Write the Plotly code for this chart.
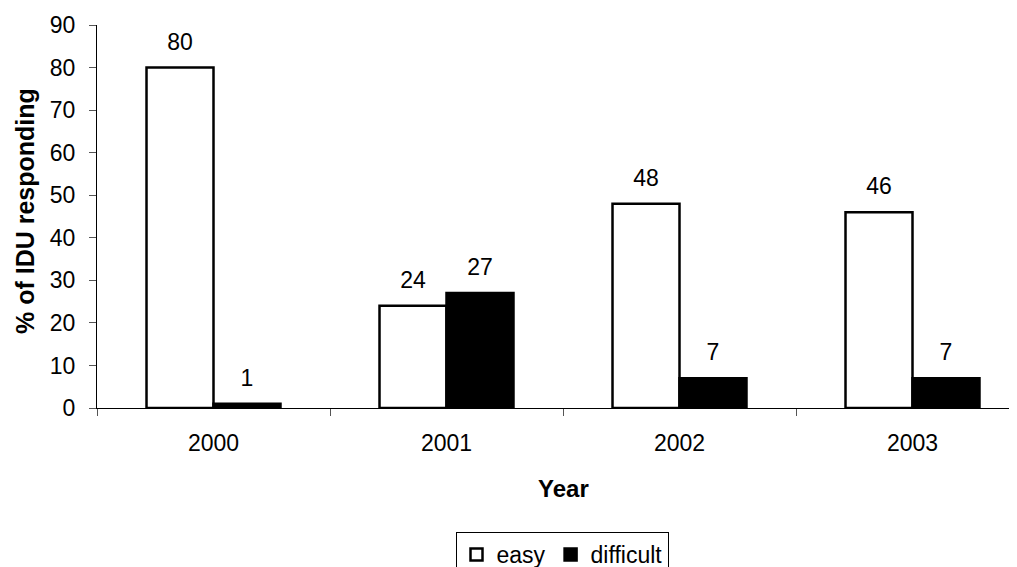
import plotly.graph_objects as go

years = ["2000", "2001", "2002", "2003"]
easy = [80, 24, 48, 46]
difficult = [1, 27, 7, 7]
y_ticks = [0, 10, 20, 30, 40, 50, 60, 70, 80, 90]

FONT = "Liberation Sans, Arial, sans-serif"
FS = 23

# the page body adds an 8px margin; work in screen pixels and shift
OFF = 8
FIG_W, FIG_H = 1017 - OFF, 567 - OFF
L, R_EDGE, T, B = 97 - OFF, 1017 - OFF, 25 - OFF, 408 - OFF
W_PLOT = R_EDGE - L
H_PLOT = B - T

fig = go.Figure()
fig.add_trace(go.Bar(
    x=years, y=easy, name="easy", offsetgroup="easy",
    marker=dict(color="white", line=dict(color="black", width=2.5)),
))
fig.add_trace(go.Bar(
    x=years, y=difficult, name="difficult", offsetgroup="difficult",
    marker=dict(color="black", line=dict(color="black", width=2.5)),
))
# value labels, grouped like the bars
for vals, grp in [(easy, "easy"), (difficult, "difficult")]:
    fig.add_trace(go.Scatter(
        x=years, y=vals, mode="markers+text", offsetgroup=grp,
        text=[str(v) for v in vals], textposition="top center",
        textfont=dict(size=FS, color="black", family=FONT),
        marker=dict(size=18, color="rgba(0,0,0,0)"),
        showlegend=False, hoverinfo="skip", cliponaxis=False,
    ))

fig.update_layout(
    width=FIG_W, height=FIG_H,
    margin=dict(l=L, r=FIG_W - R_EDGE, t=T, b=FIG_H - B, autoexpand=False),
    paper_bgcolor="white", plot_bgcolor="white",
    font=dict(family=FONT, size=FS, color="black"),
    barmode="group", bargap=0.425, bargroupgap=0,
    scattermode="group", scattergap=0.425,
    showlegend=True,
    legend=dict(
        orientation="h", x=(562 - OFF - L) / W_PLOT, xanchor="center",
        y=-(532 - OFF - B) / H_PLOT, yanchor="top",
        bordercolor="black", borderwidth=1, font=dict(size=FS, family=FONT),
        itemwidth=30, tracegroupgap=0,
    ),
    xaxis=dict(
        type="category", range=[-0.5, -0.5 + W_PLOT / 233.0],
        showline=True, linecolor="black", linewidth=1,
        ticks="outside", tickson="boundaries", ticklen=7, tickcolor="#555",
        tickfont=dict(size=FS, family=FONT), showgrid=False,
        ticklabelstandoff=14, automargin=False,
    ),
    yaxis=dict(
        range=[0, 90], tickvals=y_ticks,
        showline=True, linecolor="black", linewidth=1,
        ticks="outside", ticklen=7, tickcolor="#555",
        tickfont=dict(size=FS, family=FONT), showgrid=False, zeroline=False,
        ticklabelstandoff=9, automargin=False,
    ),
)

fig.add_annotation(
    x=1.5, xref="x", y=-(488 - OFF - B) / H_PLOT, yref="paper", yanchor="middle",
    text="<b>Year</b>", showarrow=False, font=dict(size=24, family=FONT),
)
fig.add_annotation(
    x=(25 - OFF - L) / W_PLOT, xref="paper", xanchor="center",
    y=(B - (211 - OFF)) / H_PLOT, yref="paper", yanchor="middle",
    text="<b>% of IDU responding</b>", textangle=-90, showarrow=False,
    font=dict(size=25, family=FONT),
)

fig.write_html("out.html")
